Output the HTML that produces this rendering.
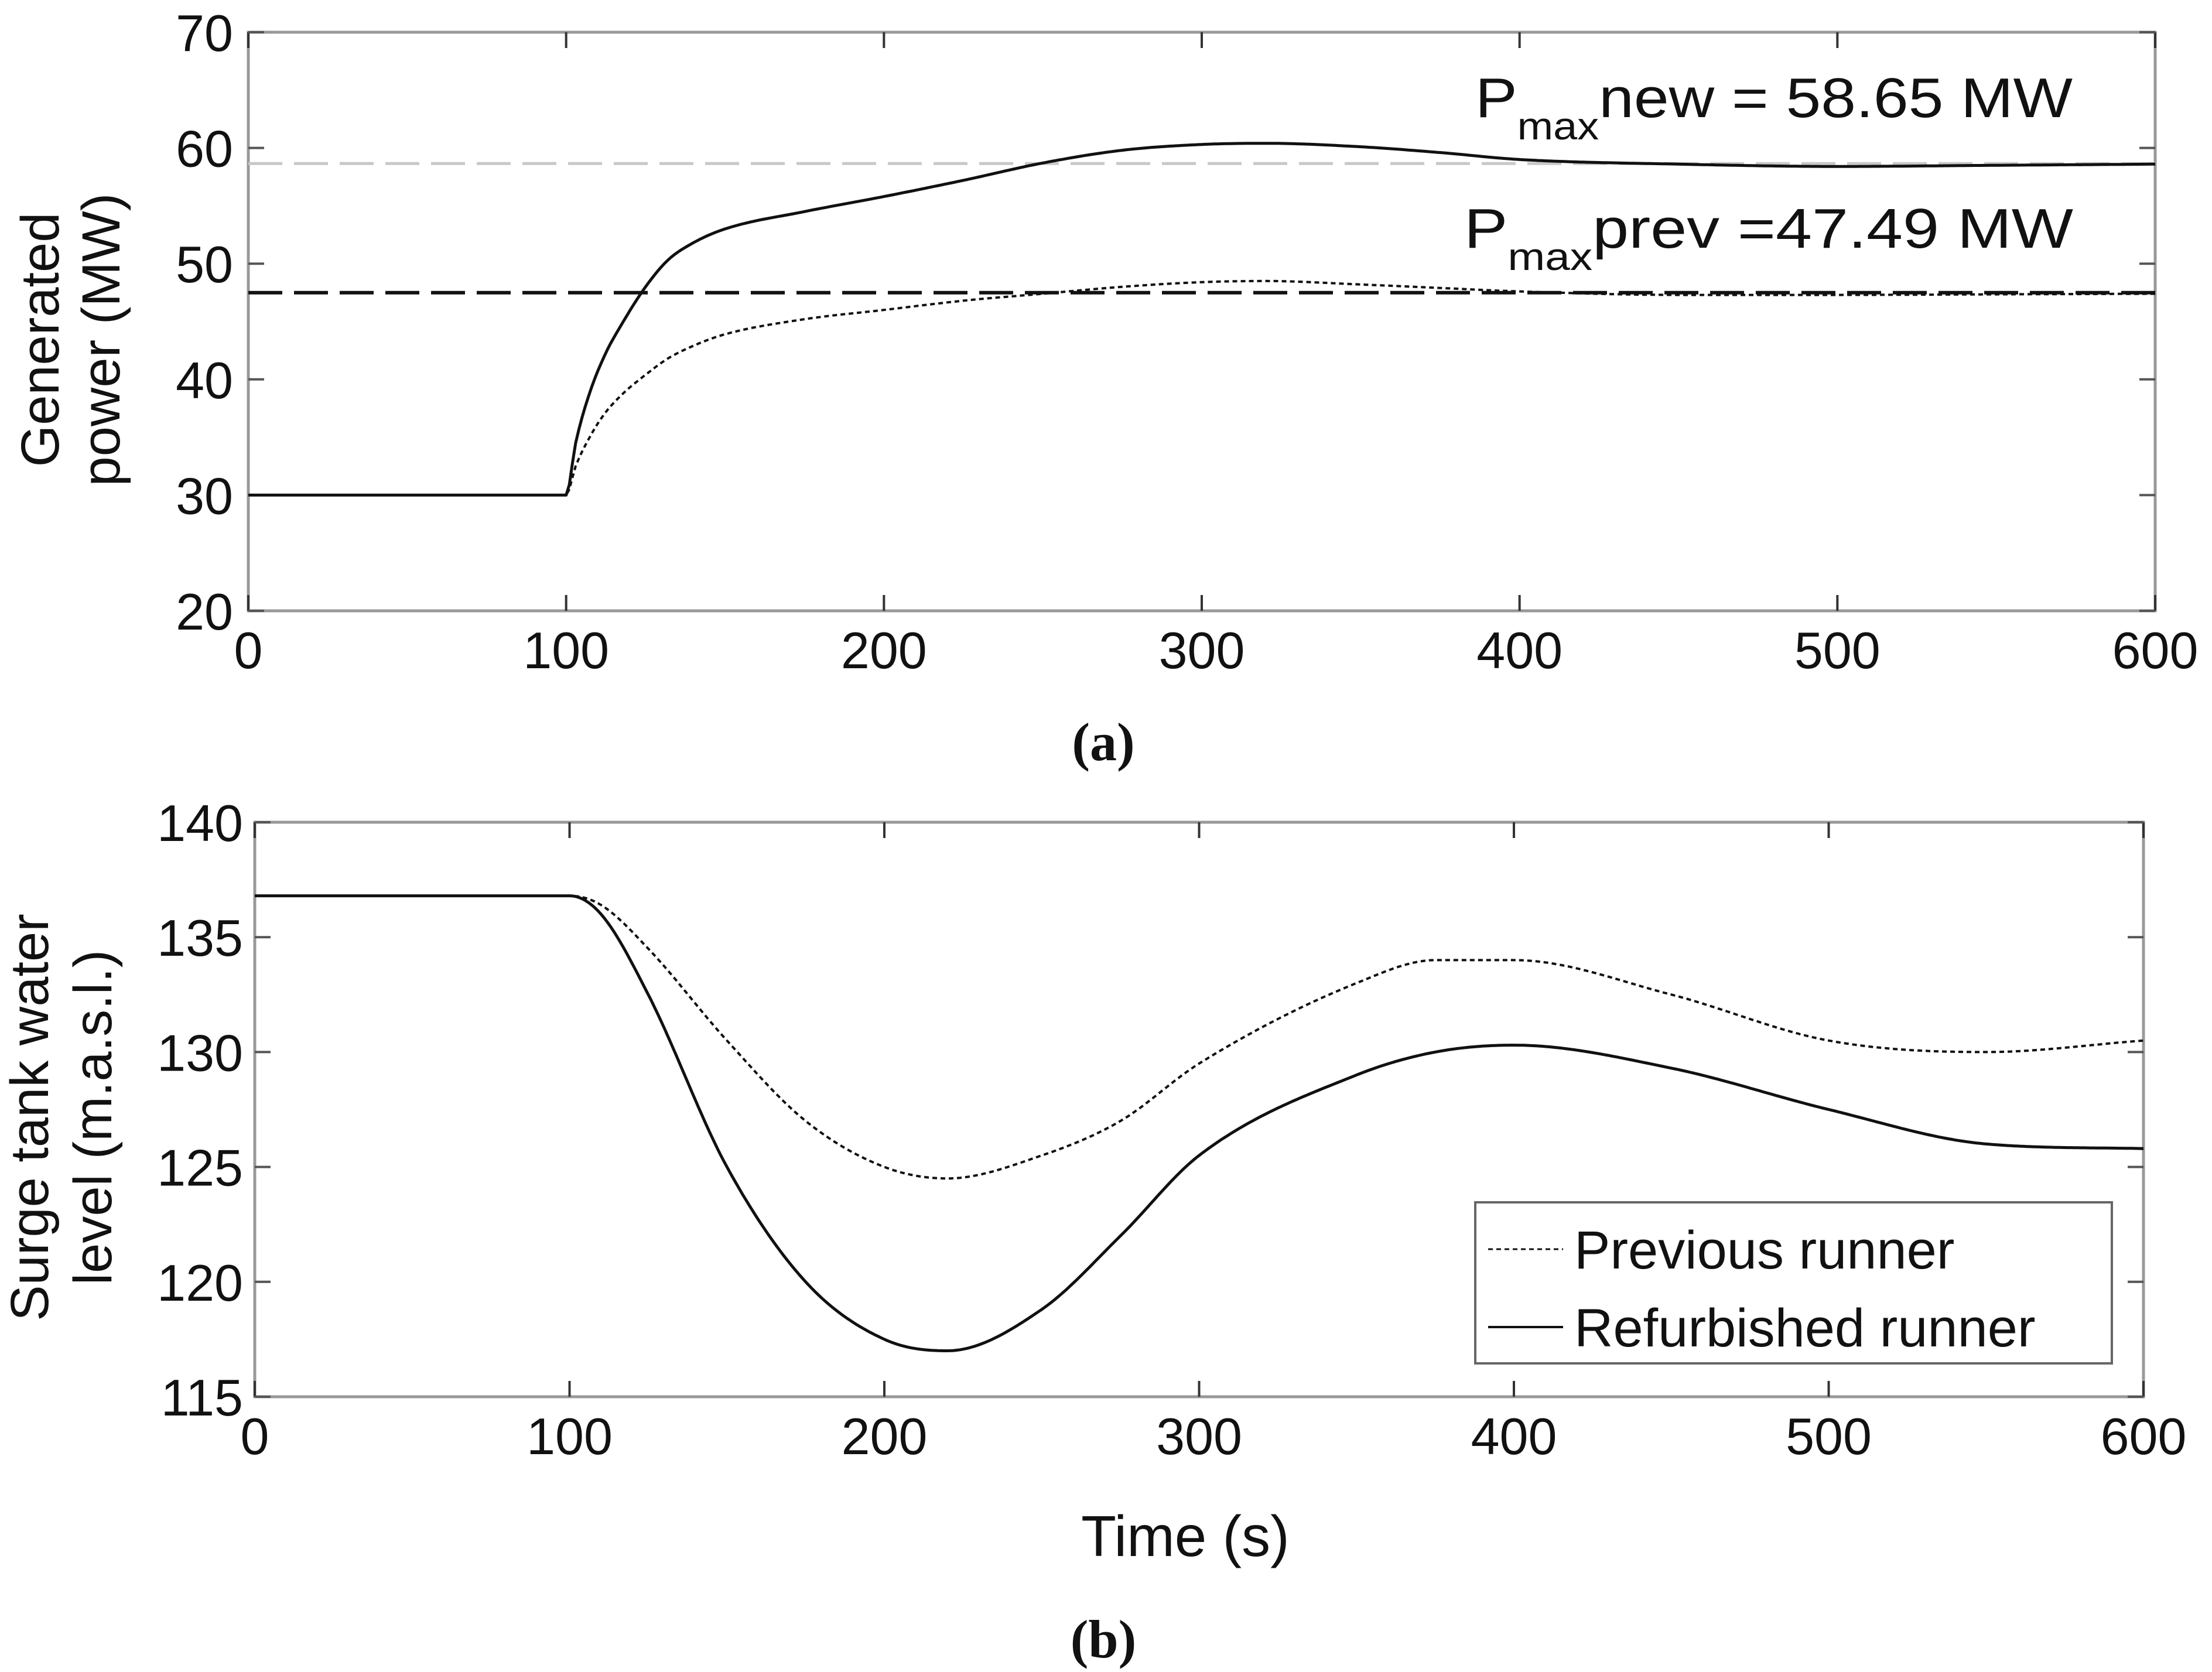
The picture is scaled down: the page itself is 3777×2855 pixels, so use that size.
<!DOCTYPE html>
<html><head><meta charset="utf-8"><style>
html,body{margin:0;padding:0;background:#fff}
svg{display:block}
text{font-family:"Liberation Sans",sans-serif;fill:#111}
</style></head><body>
<svg id="chart" width="3777" height="2855" viewBox="0 0 3777 2855" xmlns="http://www.w3.org/2000/svg">
<g id="pa"></g>
<g id="pb"></g>
<text x="2519" y="200" font-size="96" textLength="1020" lengthAdjust="spacingAndGlyphs">P<tspan font-size="66" dy="38">max</tspan><tspan dy="-38">new = 58.65 MW</tspan></text>
<text x="2500" y="423" font-size="96" textLength="1040" lengthAdjust="spacingAndGlyphs">P<tspan font-size="66" dy="38">max</tspan><tspan dy="-38">prev  =47.49 MW</tspan></text>
<text x="1884" y="1298" font-size="92" font-weight="bold" text-anchor="middle" style="font-family:'Liberation Serif',serif">(a)</text>
<text x="1884" y="2830" font-size="92" font-weight="bold" text-anchor="middle" style="font-family:'Liberation Serif',serif">(b)</text>
<text x="2024" y="2657" font-size="98" text-anchor="middle">Time (s)</text>
<text transform="translate(100,580) rotate(-90)" font-size="92" text-anchor="middle"><tspan x="0" dy="0">Generated</tspan><tspan x="0" dy="104">power (MW)</tspan></text>
<text transform="translate(82,1908) rotate(-90)" font-size="92" text-anchor="middle"><tspan x="0" dy="0">Surge tank water</tspan><tspan x="0" dy="108">level (m.a.s.l.)</tspan></text>
<g>
<rect x="2519" y="2053" width="1087" height="275" fill="#fff" stroke="#666" stroke-width="4"/>
<line x1="2541" y1="2133" x2="2669" y2="2133" stroke="#111" stroke-width="3" stroke-dasharray="8,6"/>
<text x="2688" y="2166" font-size="92">Previous runner</text>
<line x1="2541" y1="2266" x2="2669" y2="2266" stroke="#111" stroke-width="4"/>
<text x="2688" y="2299" font-size="92">Refurbished runner</text>
</g>
</svg>
<script>
const xTicks=[0,100,200,300,400,500,600];
const aTicks=[20,30,40,50,60,70];
const bTicks=[115,120,125,130,135,140];
const aT=[0,100,103,107,112,118,125,132,140,150,175,200,225,250,275,300,320,350,375,400,450,500,550,600];
const aNew=[30,30,34.5,38.5,42,45,48,50.3,51.8,53,54.5,55.8,57.2,58.7,59.8,60.3,60.4,60.1,59.6,59.0,58.6,58.4,58.5,58.6];
const aPrev=[30,30,32.5,34.8,37,38.8,40.4,41.8,42.9,43.9,45.2,46,46.8,47.4,48,48.4,48.5,48.2,47.9,47.6,47.3,47.3,47.35,47.4];
const refNew=58.65, refPrev=47.49;
const bT=[0,100,110,125,150,175,200,220,250,275,300,350,375,400,450,500,550,600];
const bNew=[136.8,136.8,136,132.5,125,120,117.5,117,118.8,122,125.5,129,130,130.3,129.3,127.5,126,125.8];
const bPrev=[136.8,136.8,136.4,134.5,130.5,127,125,124.5,125.5,127,129.5,133,134,134,132.5,130.5,130,130.5];
const NS="http://www.w3.org/2000/svg";
function mk(p,tag,at){const e=document.createElementNS(NS,tag);for(const k in at)e.setAttribute(k,at[k]);p.appendChild(e);return e;}
function monotone(xs,ys){
 const n=xs.length,d=[],m=new Array(n);
 for(let i=0;i<n-1;i++)d.push((ys[i+1]-ys[i])/(xs[i+1]-xs[i]));
 m[0]=d[0];m[n-1]=d[n-2];
 for(let i=1;i<n-1;i++)m[i]=(d[i-1]*d[i]<=0)?0:(d[i-1]+d[i])/2;
 for(let i=0;i<n-1;i++){
  if(d[i]===0){m[i]=0;m[i+1]=0;continue;}
  const a=m[i]/d[i],b=m[i+1]/d[i],s=a*a+b*b;
  if(s>9){const t=3/Math.sqrt(s);m[i]=t*a*d[i];m[i+1]=t*b*d[i];}
 }
 return x=>{
  let i=0;while(i<n-2&&x>xs[i+1])i++;
  const h=xs[i+1]-xs[i],t=(x-xs[i])/h,t2=t*t,t3=t2*t;
  return (2*t3-3*t2+1)*ys[i]+(t3-2*t2+t)*h*m[i]+(-2*t3+3*t2)*ys[i+1]+(t3-t2)*h*m[i+1];
 };
}
function panel(g,L,R,T,B,ymin,ymax,yt,series,tag,lblX){
 const sx=v=>L+(v/600)*(R-L), sy=v=>B-(v-ymin)/(ymax-ymin)*(B-T);
 const box=mk(g,'rect',{x:L,y:T,width:R-L,height:B-T,fill:'none',stroke:'#999','stroke-width':5});
 
 
 xTicks.forEach(v=>{
  const x=sx(v);
  mk(g,'line',{x1:x,y1:B,x2:x,y2:B-27,stroke:'#333','stroke-width':4});
  mk(g,'line',{x1:x,y1:T,x2:x,y2:T+27,stroke:'#333','stroke-width':4});
  const t=mk(g,'text',{x:x,y:B+98,'font-size':88,'text-anchor':'middle'});t.textContent=v;
  
  
 });
 yt.forEach(v=>{
  const y=sy(v);
  mk(g,'line',{x1:L,y1:y,x2:L+27,y2:y,stroke:'#555','stroke-width':4});
  mk(g,'line',{x1:R,y1:y,x2:R-27,y2:y,stroke:'#555','stroke-width':4});
  const t=mk(g,'text',{x:lblX,y:y+32,'font-size':88,'text-anchor':'end'});t.textContent=v;
  
  
 });
 series.forEach(s=>{
  const f=monotone(s.t,s.v);
  const t0=s.t[0],t1=s.t[s.t.length-1];
  let d='';
  for(let x=t0;x<=t1+0.001;x+=1){d+=(d?'L':'M')+sx(x).toFixed(1)+','+sy(f(x)).toFixed(1);}
  const p=mk(g,'path',{d:d,fill:'none',stroke:s.c||'#111','stroke-width':s.w||5,'stroke-dasharray':s.dash||'none','stroke-linejoin':'round'});
  
  
 });
}
panel(document.getElementById('pa'),424,3680,55,1043,20,70,aTicks,[
 {t:[0,600],v:[refNew,refNew],c:'#c8c8c8',w:5,dash:'58,20',name:'pmax-new-reference-line'},
 {t:[0,600],v:[refPrev,refPrev],c:'#111',w:6,dash:'58,20',name:'pmax-prev-reference-line'},
 {t:aT,v:aPrev,w:4,dash:'8,6',name:'power-previous-runner-line'},
 {t:aT,v:aNew,w:5,name:'power-refurbished-runner-line'}
],'panel-a',398);
panel(document.getElementById('pb'),435,3660,1404,2385,115,140,bTicks,[
 {t:bT,v:bPrev,w:4,dash:'8,6',name:'level-previous-runner-line'},
 {t:bT,v:bNew,w:5,name:'level-refurbished-runner-line'}
],'panel-b',415);
</script>
</body></html>
